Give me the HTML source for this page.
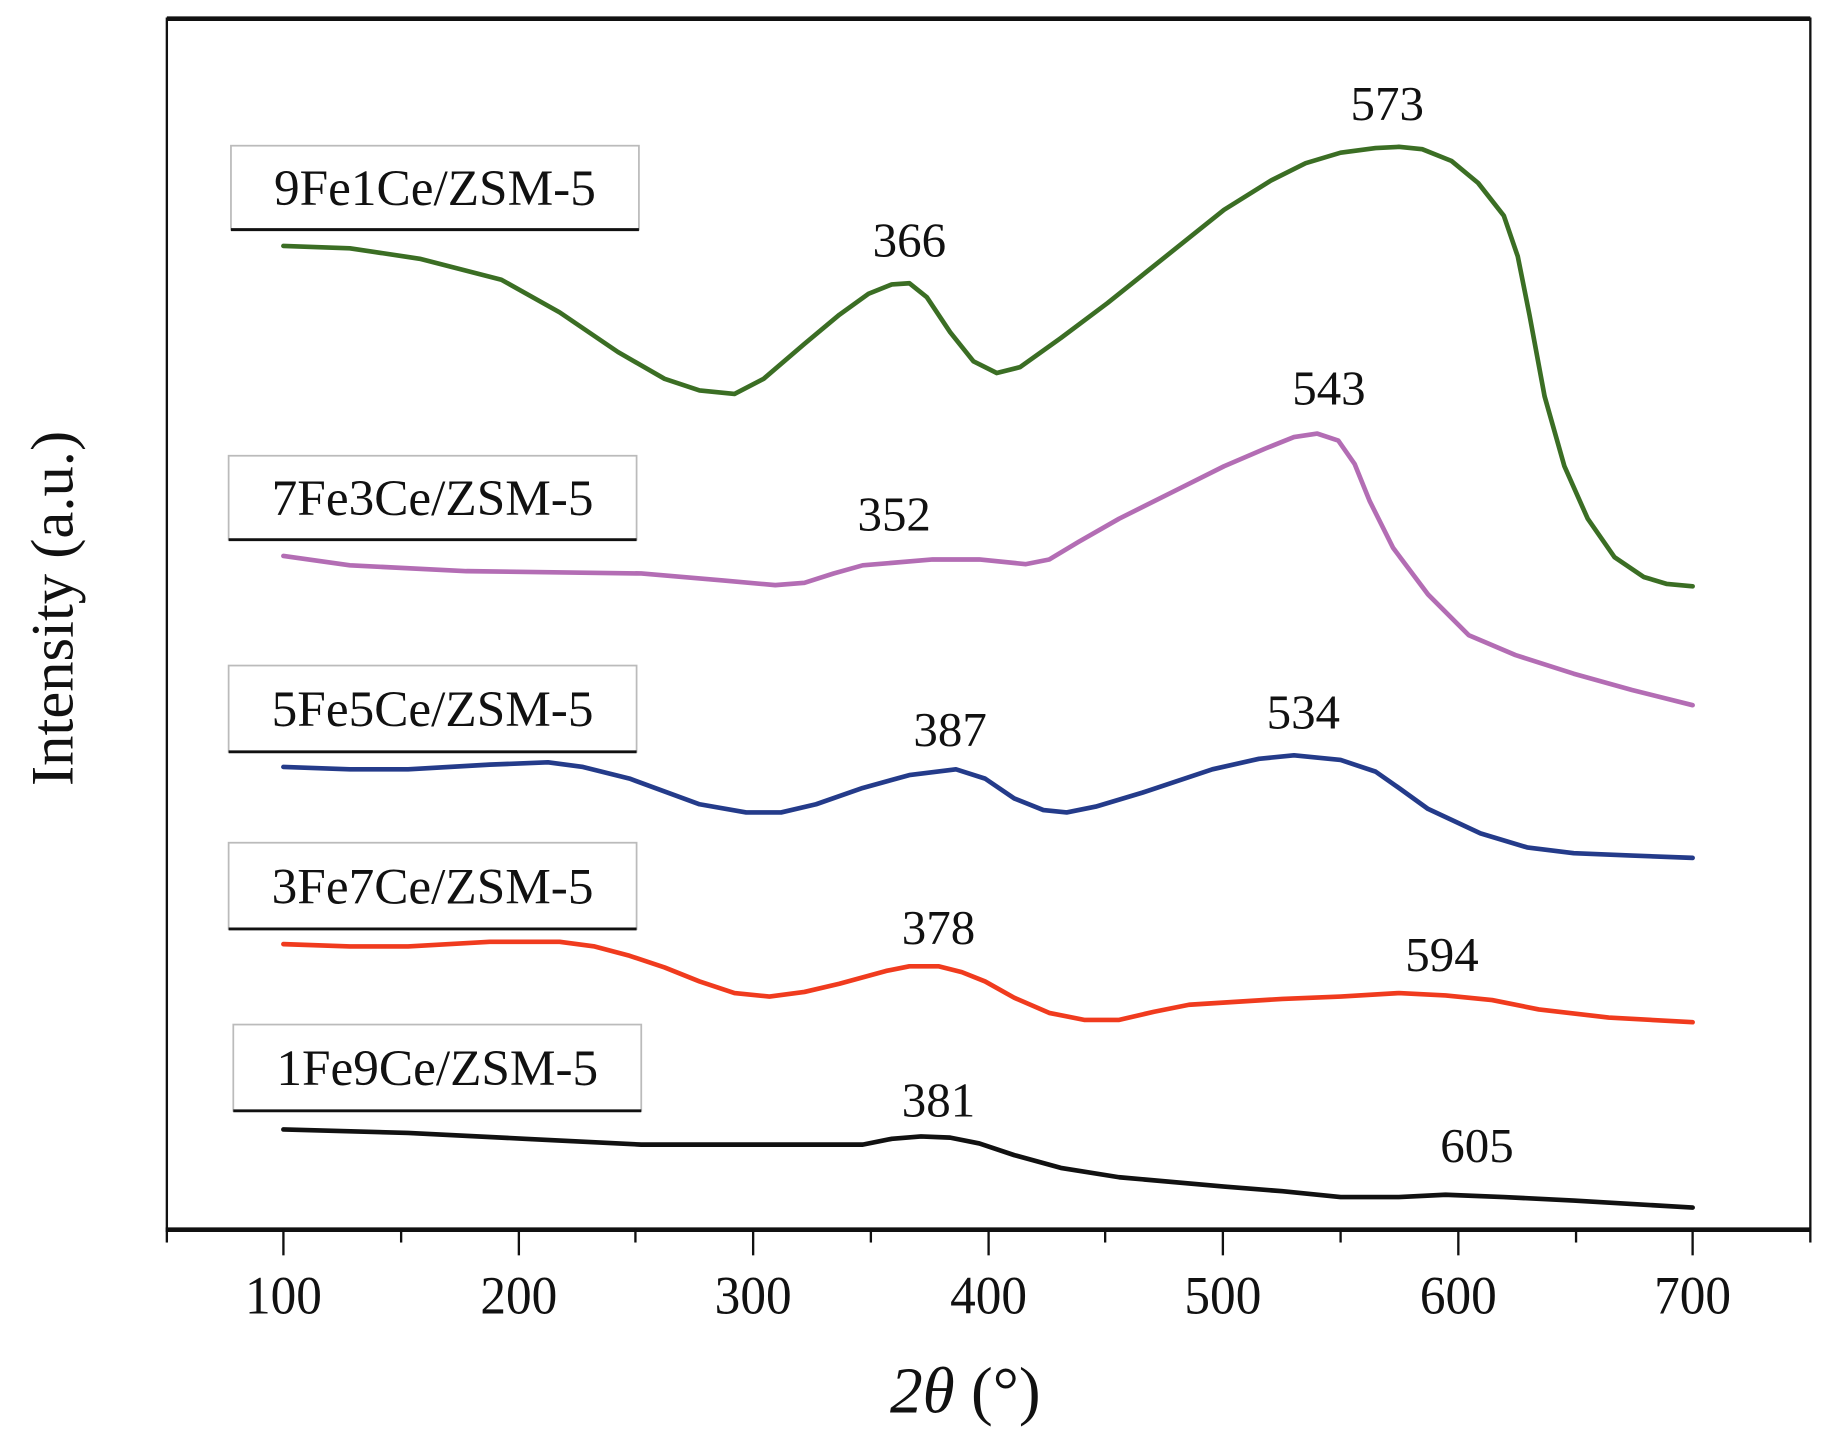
<!DOCTYPE html>
<html><head><meta charset="utf-8"><style>
html,body{margin:0;padding:0;background:#fff;}
svg{display:block;}
text{font-family:"Liberation Serif",serif;fill:#111;}
</style></head><body>
<svg width="1828" height="1450" viewBox="0 0 1568 1244" xmlns="http://www.w3.org/2000/svg">
<rect width="1568" height="1244" fill="#fff"/>
<!-- frame -->
<line x1="143" y1="16" x2="1553" y2="16" stroke="#111" stroke-width="4"/>
<line x1="143" y1="15" x2="143" y2="1055" stroke="#111" stroke-width="2"/>
<line x1="1553" y1="15" x2="1553" y2="1055" stroke="#111" stroke-width="2"/>
<line x1="142" y1="1055" x2="1554" y2="1055" stroke="#111" stroke-width="4"/>
<g stroke="#111" stroke-width="2">
<line x1="243" y1="1055" x2="243" y2="1077"/><line x1="445" y1="1055" x2="445" y2="1077"/>
<line x1="646" y1="1055" x2="646" y2="1077"/><line x1="848" y1="1055" x2="848" y2="1077"/>
<line x1="1049" y1="1055" x2="1049" y2="1077"/><line x1="1251" y1="1055" x2="1251" y2="1077"/>
<line x1="1452" y1="1055" x2="1452" y2="1077"/>
<line x1="143" y1="1055" x2="143" y2="1066"/><line x1="344" y1="1055" x2="344" y2="1066"/>
<line x1="545" y1="1055" x2="545" y2="1066"/><line x1="747" y1="1055" x2="747" y2="1066"/>
<line x1="948" y1="1055" x2="948" y2="1066"/><line x1="1150" y1="1055" x2="1150" y2="1066"/>
<line x1="1352" y1="1055" x2="1352" y2="1066"/><line x1="1553" y1="1055" x2="1553" y2="1066"/>
</g>
<g font-size="46" text-anchor="middle">
<text x="243" y="1127" textLength="66" lengthAdjust="spacingAndGlyphs">100</text>
<text x="445" y="1127" textLength="66" lengthAdjust="spacingAndGlyphs">200</text>
<text x="646" y="1127" textLength="66" lengthAdjust="spacingAndGlyphs">300</text>
<text x="848" y="1127" textLength="66" lengthAdjust="spacingAndGlyphs">400</text>
<text x="1049" y="1127" textLength="66" lengthAdjust="spacingAndGlyphs">500</text>
<text x="1251" y="1127" textLength="66" lengthAdjust="spacingAndGlyphs">600</text>
<text x="1452" y="1127" textLength="66" lengthAdjust="spacingAndGlyphs">700</text>
</g>
<text x="828" y="1212" font-size="56" text-anchor="middle"><tspan font-style="italic">2θ</tspan> (°)</text>
<text transform="translate(62,522) rotate(-90)" font-size="52" text-anchor="middle">Intensity (a.u.)</text>

<!-- curves -->
<g fill="none" stroke-width="4" stroke-linejoin="round" stroke-linecap="round">
<polyline stroke="#3b6e24" points="243,211 300,213 360,222 430,240 480,268 530,302 570,325 600,335 630,338 655,325 690,295 720,270 745,252 765,244 780,243 795,255 815,285 835,310 855,320 875,315 910,290 950,260 1000,220 1050,180 1090,155 1120,140 1150,131 1180,127 1200,126 1220,128 1245,138 1268,157 1290,185 1302,220 1312,270 1325,340 1342,400 1362,445 1385,478 1410,495 1430,501 1452,503"/>
<polyline stroke="#b36db4" points="243,477 300,485 400,490 550,492 620,498 665,502 690,500 715,492 740,485 800,480 840,480 880,484 900,480 925,465 960,445 1010,420 1050,400 1085,385 1110,375 1130,372 1148,378 1162,398 1175,430 1195,470 1225,510 1260,545 1300,562 1350,578 1400,592 1452,605"/>
<polyline stroke="#243b8a" points="243,658 300,660 350,660 420,656 470,654 500,658 540,668 600,690 640,697 670,697 700,690 740,676 780,665 820,660 845,668 870,685 895,695 915,697 940,692 980,680 1040,660 1080,651 1110,648 1150,652 1180,662 1200,676 1225,694 1270,715 1310,727 1350,732 1400,734 1452,736"/>
<polyline stroke="#f03b1e" points="243,810 300,812 350,812 420,808 480,808 510,812 540,820 570,830 600,842 630,852 660,855 690,851 720,844 760,833 780,829 805,829 825,834 845,842 870,856 900,869 930,875 960,875 990,868 1020,862 1100,857 1150,855 1200,852 1240,854 1280,858 1320,866 1380,873 1452,877"/>
<polyline stroke="#111" points="243,969 350,972 450,977 550,982 740,982 765,977 790,975 815,976 840,981 870,991 910,1002 960,1010 1050,1018 1100,1022 1150,1027 1200,1027 1240,1025 1290,1027 1350,1030 1452,1036"/>
</g>

<!-- legend boxes -->
<g font-size="44" text-anchor="middle">
<rect x="198" y="125" width="350" height="72" fill="#fff" stroke="#bbb" stroke-width="1.5"/>
<line x1="198" y1="197" x2="548" y2="197" stroke="#111" stroke-width="2.5"/>
<text x="373" y="176">9Fe1Ce/ZSM-5</text>
<rect x="196" y="391" width="350" height="72" fill="#fff" stroke="#bbb" stroke-width="1.5"/>
<line x1="196" y1="463" x2="546" y2="463" stroke="#111" stroke-width="2.5"/>
<text x="371" y="442">7Fe3Ce/ZSM-5</text>
<rect x="196" y="571" width="350" height="74" fill="#fff" stroke="#bbb" stroke-width="1.5"/>
<line x1="196" y1="645" x2="546" y2="645" stroke="#111" stroke-width="2.5"/>
<text x="371" y="623">5Fe5Ce/ZSM-5</text>
<rect x="196" y="723" width="350" height="74" fill="#fff" stroke="#bbb" stroke-width="1.5"/>
<line x1="196" y1="797" x2="546" y2="797" stroke="#111" stroke-width="2.5"/>
<text x="371" y="775">3Fe7Ce/ZSM-5</text>
<rect x="200" y="879" width="350" height="74" fill="#fff" stroke="#bbb" stroke-width="1.5"/>
<line x1="200" y1="953" x2="550" y2="953" stroke="#111" stroke-width="2.5"/>
<text x="375" y="931">1Fe9Ce/ZSM-5</text>
</g>

<!-- peak labels -->
<g font-size="42" text-anchor="middle">
<text x="1190" y="103">573</text>
<text x="780" y="220">366</text>
<text x="1140" y="347">543</text>
<text x="767" y="455">352</text>
<text x="815" y="640">387</text>
<text x="1118" y="625">534</text>
<text x="805" y="810">378</text>
<text x="1237" y="833">594</text>
<text x="805" y="958">381</text>
<text x="1267" y="997">605</text>
</g>
</svg>
</body></html>
